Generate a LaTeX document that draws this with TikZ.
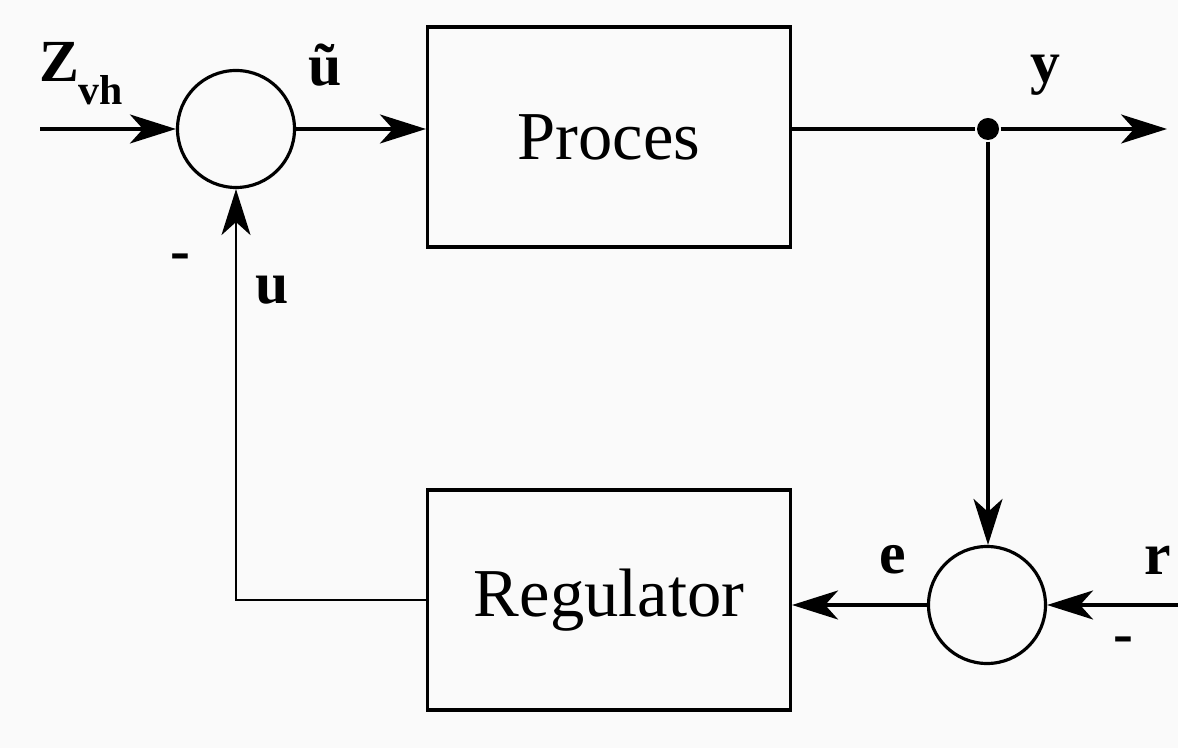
\documentclass[tikz,border=0pt]{standalone}
\usepackage{fontspec}
\setmainfont{Liberation Serif}
\usepackage{tikz}
\usetikzlibrary{arrows.meta, positioning}

\begin{document}
\begin{tikzpicture}[>={Stealth[length=4.6mm, width=2.9mm, inset=1.3mm]},
    line width=0.9pt,
    sumnode/.style={draw, circle, minimum size=1.17cm, inner sep=0pt},
    blockbox/.style={draw, minimum width=3.63cm, minimum height=2.2cm, font=\fontsize{19.5}{22}\selectfont},
    sig/.style={font=\bfseries\fontsize{17}{20}\selectfont}]

    \fill[black!2] (0,0) rectangle (11.78,7.48);
    \useasboundingbox (0,0) rectangle (11.78,7.48);

    \node[sumnode] (sum1) at (2.36,6.19) {};
    \node[blockbox] (proces) at (6.09,6.11) {Proces};
    \node[blockbox] (regulator) at (6.09,1.48) {Regulator};
    \node[sumnode] (sum2) at (9.87,1.43) {};
    \node[circle, fill, inner sep=0pt, minimum size=0.22cm] (split) at (9.88,6.19) {};

    \coordinate (zin) at (0.40,6.19);
    \coordinate (yout) at (11.67,6.19);
    \coordinate (rin) at (11.78,1.43);
    \coordinate (corner) at (sum1 |- regulator.west);

    \draw[->] (zin) -- (sum1.west);
    \draw[->] (sum1.east) -- (sum1.east -| proces.west);
    \draw (proces.east |- split) -- (split);
    \draw[->] (split) -- (yout);
    \draw[->] (split) -- (split |- sum2.north);
    \draw[->] (rin) -- (sum2.east);
    \draw[->] (sum2.west) -- (sum2.west -| regulator.east);
    \draw[->, line width=0.7pt] (regulator.west) -- (corner) -- (sum1.south);

    \node[sig] (zlabel) at (0.82,6.74) {Z\raisebox{-0.5ex}{\textsubscript{vh}}};
    \node[sig] (utilde) at (3.25,6.83) {\~u};
    \node[sig] (ylabel) at (10.45,6.73) {y};
    \node[sig] (minus1) at (1.80,4.86) {-};
    \node[sig] (ulabel) at (2.72,4.58) {u};
    \node[sig] (elabel) at (8.93,1.88) {e};
    \node[sig] (rlabel) at (11.58,1.88) {r};
    \node[sig] (minus2) at (11.23,1.03) {-};

    \end{tikzpicture}
\end{document}
